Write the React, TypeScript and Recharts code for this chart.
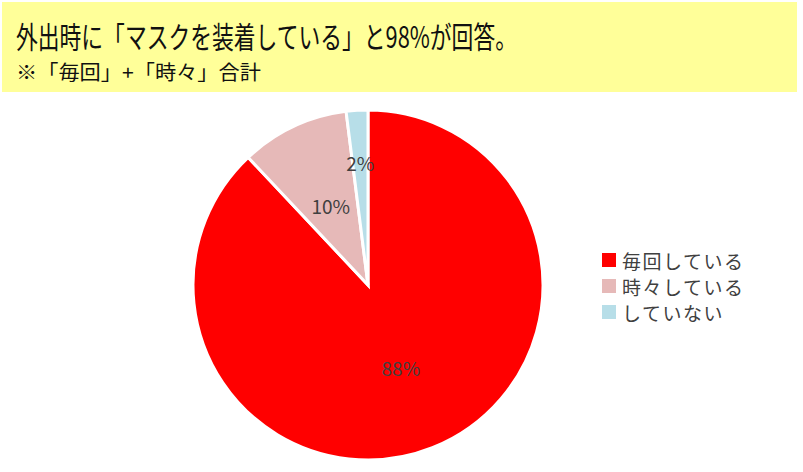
import React from "react";
import { PieChart, Pie, Cell, Legend } from "recharts";

const categories = ["毎回している", "時々している", "していない"];
const values = [88, 10, 2];
const colors = ["#FF0000", "#E6B9B8", "#B7DEE8"];
const labelRadiusRatio = [0.51, 0.5, 0.7];
const title = "外出時に「マスクを装着している」と98%が回答。";
const subtitle = "※「毎回」+「時々」合計";

const data = categories.map((name, i) => ({ name, value: values[i] }));

const RADIAN = Math.PI / 180;

const renderLabel = (props: any) => {
  const { cx, cy, midAngle, outerRadius, index, value } = props;
  const r = outerRadius * labelRadiusRatio[index];
  const x = cx + r * Math.cos(-midAngle * RADIAN);
  const y = cy + r * Math.sin(-midAngle * RADIAN);
  return (
    <text
      x={x}
      y={y}
      textAnchor="middle"
      dominantBaseline="central"
      fill="#404040"
      fontSize={19}
      fontFamily="'Noto Sans CJK JP', 'Noto Sans', sans-serif"
    >
      {value}%
    </text>
  );
};

const renderLegend = () => (
  <div style={{ fontFamily: "'Noto Sans CJK JP', sans-serif" }}>
    {categories.map((c, i) => (
      <div
        key={c}
        style={{ display: "flex", alignItems: "center", height: 26, color: "#404040", fontSize: 19 }}
      >
        <span style={{ display: "inline-block", width: 14, height: 14, background: colors[i], marginRight: 6 }} />
        <span style={{ letterSpacing: 1.5 }}>{c}</span>
      </div>
    ))}
  </div>
);

export default function App() {
  return (
    <div style={{ position: "absolute", left: 0, top: 0, width: 803, height: 472, background: "#fff", overflow: "hidden" }}>
      <div
        style={{
          position: "absolute",
          left: 2,
          top: 2,
          width: 795,
          height: 90,
          background: "#FFFF99",
          fontFamily: "'Noto Sans CJK JP', sans-serif",
        }}
      >
        <div
          style={{
            position: "absolute",
            left: 14,
            top: 15,
            fontSize: 30,
            lineHeight: "36px",
            color: "#111",
            whiteSpace: "nowrap",
            transform: "scaleX(0.726)",
            transformOrigin: "left center",
          }}
        >
          {title}
        </div>
        <div
          style={{
            position: "absolute",
            left: 14,
            top: 57,
            fontSize: 20,
            lineHeight: "26px",
            color: "#111",
            whiteSpace: "nowrap",
            transform: "scaleX(1.06)",
            transformOrigin: "left center",
          }}
        >
          {subtitle}
        </div>
      </div>
      <div style={{ position: "absolute", left: 0, top: 0 }}>
        <PieChart width={803} height={472} margin={{ top: 0, right: 0, bottom: 0, left: 0 }}>
          <Pie
            data={data}
            dataKey="value"
            nameKey="name"
            cx={368}
            cy={285}
            outerRadius={175}
            startAngle={90}
            endAngle={-270}
            stroke="#FFFFFF"
            strokeWidth={3}
            label={renderLabel}
            labelLine={false}
            isAnimationActive={false}
          >
            {data.map((d, i) => (
              <Cell key={d.name} fill={colors[i]} />
            ))}
          </Pie>
          <Legend
            content={renderLegend}
            wrapperStyle={{ position: "absolute", left: 602, top: 247, width: 180 }}
          />
        </PieChart>
      </div>
    </div>
  );
}
